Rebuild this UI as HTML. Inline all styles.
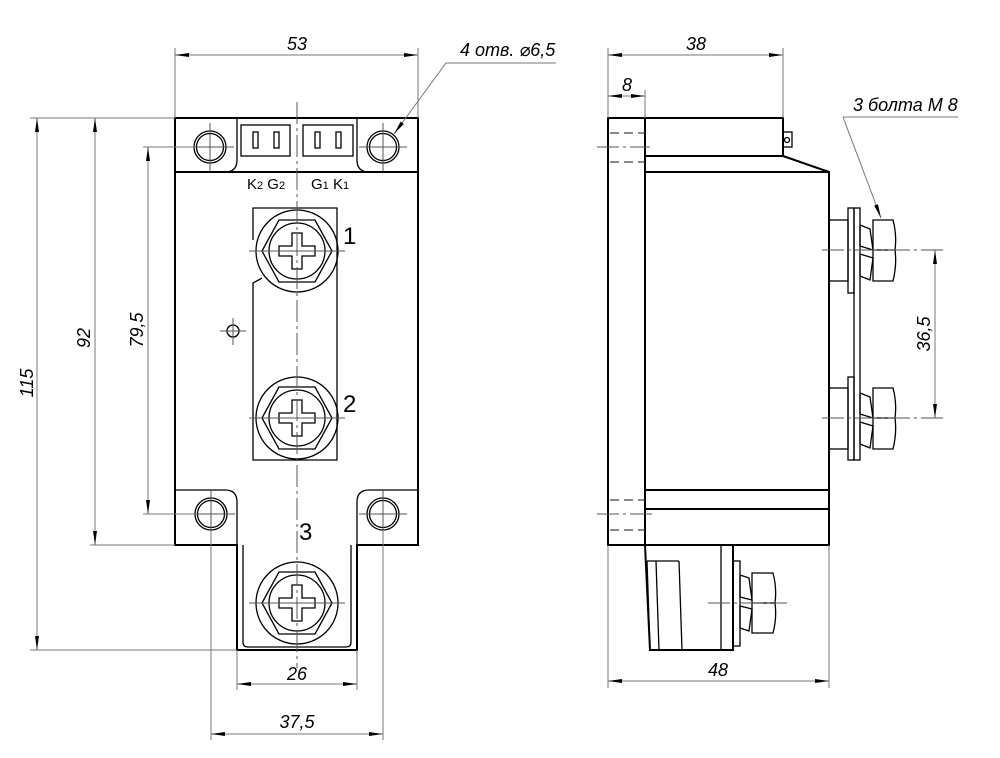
<!DOCTYPE html>
<html><head><meta charset="utf-8"><style>
html,body{margin:0;padding:0;background:#fff;}
svg{display:block;}
.o{fill:none;stroke:#000;stroke-width:2;}
.t{fill:none;stroke:#000;stroke-width:1.3;}
.d{fill:none;stroke:#777;stroke-width:1;}
.c{fill:none;stroke:#555;stroke-width:1;stroke-dasharray:22,4,3,4;}
.h{fill:none;stroke:#444;stroke-width:1.2;stroke-dasharray:9,5;}
.tx{font-family:"Liberation Sans","DejaVu Sans",sans-serif;font-style:italic;font-size:18px;fill:#000;}
.n{font-family:"Liberation Sans",sans-serif;font-size:24px;fill:#000;}
.s{font-family:"Liberation Sans",sans-serif;font-size:15px;fill:#000;}
</style></head><body>
<svg width="1000" height="758" viewBox="0 0 1000 758" xmlns="http://www.w3.org/2000/svg">
<defs>
<marker id="a" markerWidth="14" markerHeight="6" refX="14" refY="3" orient="auto" markerUnits="userSpaceOnUse"><path d="M0,1 L14,3 L0,5 z" fill="#000"/></marker>
<marker id="b" markerWidth="14" markerHeight="6" refX="0" refY="3" orient="auto" markerUnits="userSpaceOnUse"><path d="M14,1 L0,3 L14,5 z" fill="#000"/></marker>
<g id="scr">
<circle r="41" class="t"/>
<polygon points="-35,0 -18,-31 18,-31 35,0 18,31 -18,31" class="t"/>
<circle r="28" class="t"/>
<path d="M-5,-18 H5 V-5 H18 V5 H5 V18 H-5 V5 H-18 V-5 H-5 Z" class="t"/>
<line x1="-48" y1="0" x2="48" y2="0" stroke="#555" stroke-width="1"/>
</g>
<g id="hole">
<circle r="16" class="t"/><circle r="13.5" class="t"/>
<line x1="-24" y1="0" x2="24" y2="0" stroke="#555" stroke-width="1"/>
<line x1="0" y1="-24" x2="0" y2="24" stroke="#555" stroke-width="1"/>
</g>
</defs>

<!-- FRONT VIEW -->
<path class="o" d="M175,118 H418 V545 H357 V650 H237 V545 H175 Z"/>
<line class="o" x1="175" y1="172" x2="418" y2="172"/>
<path class="t" d="M237,118 V160 Q237,172 225,172"/>
<path class="t" d="M357,118 V160 Q357,172 369,172"/>
<path class="t" d="M175,490 H225 Q237,490 237,502 V545"/>
<path class="t" d="M418,490 H369 Q357,490 357,502 V545"/>
<path class="t" d="M243,545 V642 Q243,647 248,647 H346 Q351,647 351,642 V545"/>
<rect class="t" x="241" y="125" width="49" height="31"/>
<rect class="t" x="303" y="125" width="50" height="31"/>
<rect class="t" x="253" y="132" width="5" height="16"/><rect class="t" x="274" y="132" width="5" height="16"/>
<rect class="t" x="315" y="132" width="5" height="16"/><rect class="t" x="336" y="132" width="5" height="16"/>
<text class="s" x="247" y="189">K<tspan font-size="11">2</tspan> G<tspan font-size="11">2</tspan></text>
<text class="s" x="311" y="189">G<tspan font-size="11">1</tspan> K<tspan font-size="11">1</tspan></text>
<path class="t" d="M253,240 V208 H337 V460 H253 V283 L262,278"/>
<use href="#hole" x="210" y="147"/><use href="#hole" x="383" y="147"/>
<use href="#hole" x="211" y="514"/><use href="#hole" x="383" y="514"/>
<use href="#scr" x="297" y="251"/><use href="#scr" x="297" y="418"/><use href="#scr" x="297" y="603"/>
<circle cx="233" cy="331" r="6" class="t"/>
<line x1="220" y1="331" x2="246" y2="331" stroke="#555" stroke-width="1"/>
<line x1="233" y1="318" x2="233" y2="345" stroke="#555" stroke-width="1"/>
<line class="c" x1="297" y1="102" x2="297" y2="668"/>
<text class="n" x="343" y="244">1</text>
<text class="n" x="343" y="412">2</text>
<text class="n" x="299" y="540">3</text>

<!-- front dims -->
<line class="d" x1="175" y1="118" x2="175" y2="48"/><line class="d" x1="418" y1="118" x2="418" y2="48"/>
<line class="d" x1="175" y1="55" x2="418" y2="55" marker-start="url(#b)" marker-end="url(#a)"/>
<text class="tx" x="297" y="50" text-anchor="middle">53</text>
<text class="tx" x="460" y="56">4 отв. ⌀6,5</text>
<line class="d" x1="446" y1="63" x2="556" y2="63"/>
<line class="d" x1="446" y1="63" x2="394" y2="134" marker-end="url(#a)"/>
<line class="d" x1="30" y1="118" x2="175" y2="118"/>
<line class="d" x1="143" y1="147" x2="195" y2="147"/>
<line class="d" x1="143" y1="514" x2="195" y2="514"/>
<line class="d" x1="90" y1="545" x2="175" y2="545"/>
<line class="d" x1="30" y1="650" x2="237" y2="650"/>
<line class="d" x1="37" y1="118" x2="37" y2="650" marker-start="url(#b)" marker-end="url(#a)"/>
<line class="d" x1="95" y1="118" x2="95" y2="545" marker-start="url(#b)" marker-end="url(#a)"/>
<line class="d" x1="148" y1="147" x2="148" y2="514" marker-start="url(#b)" marker-end="url(#a)"/>
<text class="tx" transform="translate(33,383) rotate(-90)" text-anchor="middle">115</text>
<text class="tx" transform="translate(90,338) rotate(-90)" text-anchor="middle">92</text>
<text class="tx" transform="translate(143,330) rotate(-90)" text-anchor="middle">79,5</text>
<line class="d" x1="237" y1="650" x2="237" y2="690"/><line class="d" x1="357" y1="650" x2="357" y2="690"/>
<line class="d" x1="237" y1="684" x2="357" y2="684" marker-start="url(#b)" marker-end="url(#a)"/>
<text class="tx" x="297" y="680" text-anchor="middle">26</text>
<line class="d" x1="211" y1="530" x2="211" y2="740"/><line class="d" x1="383" y1="530" x2="383" y2="740"/>
<line class="d" x1="211" y1="734" x2="383" y2="734" marker-start="url(#b)" marker-end="url(#a)"/>
<text class="tx" x="297" y="728" text-anchor="middle">37,5</text>

<!-- SIDE VIEW -->
<rect class="o" x="608" y="118" width="37" height="427"/>
<path class="o" d="M645,118 H783 V156 L829,172 V545 H645"/>
<line class="o" x1="645" y1="156" x2="783" y2="156"/>
<line class="o" x1="645" y1="172" x2="829" y2="172"/>
<rect class="t" x="783" y="132" width="9" height="15"/><circle cx="787" cy="140" r="2.5" class="t"/>
<line class="h" x1="610" y1="133" x2="645" y2="133"/><line class="h" x1="610" y1="162" x2="645" y2="162"/>
<line class="c" x1="597" y1="147" x2="650" y2="147"/>
<line class="o" x1="645" y1="490" x2="829" y2="490"/>
<line class="o" x1="645" y1="509" x2="829" y2="509"/>
<line class="h" x1="610" y1="500" x2="645" y2="500"/><line class="h" x1="610" y1="530" x2="645" y2="530"/>
<line class="c" x1="597" y1="514" x2="652" y2="514"/>
<g>
<rect class="t" x="829" y="220" width="19" height="61"/>
<rect class="t" x="848" y="208" width="6" height="85"/>
<rect class="t" x="854" y="208" width="6" height="252"/>
<rect class="t" x="848" y="377" width="6" height="83"/>
<path class="t" d="M860,225 L870,229 L873,250 L860,246 Z M860,254 L873,258 L870,280 L860,276 Z"/>
<path class="t" d="M873,220 H893 Q897,235 895,250 Q897,265 893,281 H873 Z M873,250 H895"/>
<path class="t" d="M860,393 L870,397 L873,418 L860,414 Z M860,422 L873,426 L870,448 L860,444 Z"/>
<rect class="t" x="829" y="388" width="19" height="61"/>
<path class="t" d="M873,388 H893 Q897,403 895,418 Q897,433 893,449 H873 Z M873,418 H895"/>
</g>
<line class="c" x1="822" y1="250" x2="945" y2="250"/>
<line class="c" x1="822" y1="418" x2="945" y2="418"/>
<line class="d" x1="935" y1="250" x2="935" y2="418" marker-start="url(#b)" marker-end="url(#a)"/>
<text class="tx" transform="translate(930,334) rotate(-90)" text-anchor="middle">36,5</text>
<text class="tx" x="853" y="111">3  болта М 8</text>
<line class="d" x1="843" y1="117" x2="958" y2="117"/>
<line class="d" x1="843" y1="117" x2="881" y2="218" marker-end="url(#a)"/>
<path class="o" d="M645,545 L650,650 H733 V545"/>
<line class="t" x1="647" y1="561" x2="679" y2="561"/>
<line class="t" x1="647" y1="561" x2="650" y2="650"/>
<line class="t" x1="656" y1="561" x2="659" y2="650"/>
<line class="t" x1="679" y1="561" x2="682" y2="650"/>
<line class="t" x1="721" y1="545" x2="721" y2="650"/>
<rect class="t" x="733" y="561" width="7" height="85"/>
<path class="t" d="M740,575 L749,578 L752,600 L740,597 Z M740,606 L752,609 L749,631 L740,628 Z"/>
<path class="t" d="M752,573 H773 Q777,588 775,603 Q777,618 773,633 H752 Z M752,603 H775"/>
<line class="c" x1="708" y1="603" x2="787" y2="603"/>
<line class="d" x1="608" y1="118" x2="608" y2="48"/><line class="d" x1="783" y1="118" x2="783" y2="48"/>
<line class="d" x1="608" y1="55" x2="783" y2="55" marker-start="url(#b)" marker-end="url(#a)"/>
<text class="tx" x="696" y="50" text-anchor="middle">38</text>
<line class="d" x1="645" y1="118" x2="645" y2="90"/>
<line class="d" x1="608" y1="96" x2="645" y2="96" marker-start="url(#b)" marker-end="url(#a)"/>
<text class="tx" x="627" y="91" text-anchor="middle">8</text>
<line class="d" x1="608" y1="545" x2="608" y2="688"/><line class="d" x1="829" y1="545" x2="829" y2="688"/>
<line class="d" x1="608" y1="681" x2="829" y2="681" marker-start="url(#b)" marker-end="url(#a)"/>
<text class="tx" x="718" y="676" text-anchor="middle">48</text>
</svg>
</body></html>
